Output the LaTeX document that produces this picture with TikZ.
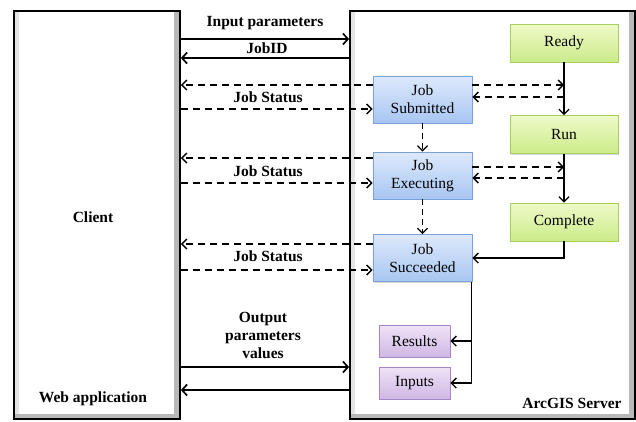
\documentclass[tikz,border=0pt]{standalone}
\usepackage{fontspec}
\setmainfont{Liberation Serif}
\usetikzlibrary{arrows.meta,shadows}

\definecolor{jobtop}{HTML}{DDE9FC}
\definecolor{jobbot}{HTML}{A8C6F2}
\definecolor{jobline}{HTML}{7AA2D8}
\definecolor{sttop}{HTML}{EEFAC8}
\definecolor{stbot}{HTML}{CCEB8A}
\definecolor{stline}{HTML}{A6CE62}
\definecolor{outtop}{HTML}{EFE3F7}
\definecolor{outbot}{HTML}{CFB7E4}
\definecolor{outline}{HTML}{A386C3}

\tikzset{
  panel/.style={draw,line width=1.8pt,fill=white,inner sep=0pt,
    path picture={
      \fill[gray!20] (path picture bounding box.north west) rectangle ([xshift=5pt]path picture bounding box.south west);
      \fill[gray!55] ([xshift=-6pt]path picture bounding box.north east) rectangle (path picture bounding box.south east);
      \fill[gray!55] ([yshift=5pt]path picture bounding box.south west) rectangle (path picture bounding box.south east);
    }},
  smallbox/.style={inner sep=0pt,align=center,line width=0.8pt,
    drop shadow={shadow xshift=1pt,shadow yshift=-1pt,opacity=.3}},
  jobbox/.style={smallbox,draw=jobline,top color=jobtop,bottom color=jobbot,
    minimum width=99pt,minimum height=47pt},
  statebox/.style={smallbox,draw=stline,top color=sttop,bottom color=stbot,
    minimum width=108pt,minimum height=38pt},
  outbox/.style={smallbox,draw=outline,top color=outtop,bottom color=outbot,
    minimum width=71pt,minimum height=32pt},
  msgtext/.style={font=\bfseries,align=center},
  msg/.style={line width=1.7pt,-{Straight Barb[length=5pt,width=11pt,line width=1.7pt]}},
  dmsg/.style={line width=1.4pt,dash pattern=on 7pt off 5pt,
    -{Straight Barb[length=5pt,width=10pt,line width=1.4pt]}},
  flow/.style={line width=1.3pt,-{Straight Barb[length=5pt,width=10pt,line width=1.3pt]}},
  dflow/.style={flow,dash pattern=on 6pt off 4pt}
}

\begin{document}
\fontsize{15.5}{18}\selectfont
\begin{tikzpicture}[x=1pt,y=-1pt]
\useasboundingbox (0,0) rectangle (636,421);

% the two sides
\node[panel,minimum width=166pt,minimum height=408pt] (client) at (97,215) {};
\node[panel,minimum width=285pt,minimum height=408pt] (server) at (492.5,215) {};
\node[msgtext] (clientname) at (93,217) {Client};
\node[msgtext] (webapp) at (93,399) {Web application};
\node[msgtext] (arcgis) at (572,403) {ArcGIS Server};

% job states
\node[jobbox] (sub) at (422.5,99.5) {Job\\Submitted};
\node[jobbox] (exe) at (422.5,175.5) {Job\\Executing};
\node[jobbox] (suc) at (422.5,258) {Job\\Succeeded};

\node[statebox] (ready) at (564,43) {Ready};
\node[statebox] (run) at (564,134.5) {Run};
\node[statebox] (comp) at (564,222) {Complete};

\node[outbox] (res) at (414.5,341) {Results};
\node[outbox] (inp) at (414.5,383) {Inputs};

% client <-> server
\draw[msg] (client.east |- 0,39) -- (server.west |- 0,39);
\node[msgtext] (inlbl) at (265,23) {Input parameters};
\draw[msg] (server.west |- 0,58) -- (client.east |- 0,58);
\node[msgtext] (idlbl) at (267,48) {JobID};

\foreach \jb/\ya/\yb/\yl in {sub/85/109/97,exe/158/183/171,suc/244/270/256}{
  \draw[dmsg] (\jb.west |- 0,\ya) -- (client.east |- 0,\ya);
  \draw[dmsg] (client.east |- 0,\yb) -- (\jb.west |- 0,\yb);
  \node[msgtext] at (268,\yl) {Job Status};
}

\node[msgtext] (outlbl) at (263,335) {Output\\parameters\\values};
\draw[msg] (client.east |- 0,367) -- (server.west |- 0,367);
\draw[msg] (server.west |- 0,390) -- (client.east |- 0,390);

% inside the server
\draw[dflow] (sub) -- (exe);
\draw[dflow] (exe) -- (suc);
\draw[flow] (ready) -- (run);
\draw[flow] (run) -- (comp);
\draw[flow] (comp.south) |- (suc.east);

\foreach \jb/\ya/\yb in {sub/85/97,exe/167/178}{
  \draw[dmsg] (\jb.east |- 0,\ya) -- (ready.south |- 0,\ya);
  \draw[dmsg] (ready.south |- 0,\yb) -- (\jb.east |- 0,\yb);
}

\draw[flow] ([xshift=-1pt]suc.south east) |- (res.east);
\draw[flow] ([xshift=-1pt]suc.south east) |- (inp.east);
\end{tikzpicture}
\end{document}
